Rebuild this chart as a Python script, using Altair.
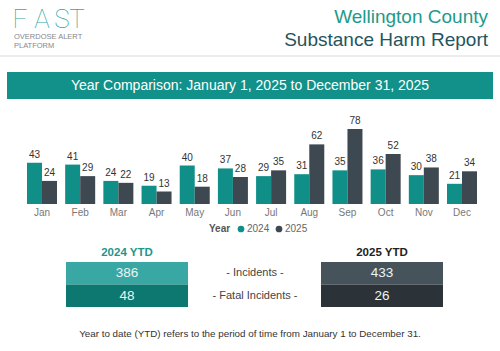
import altair as alt
import pandas as pd

# ---- data ----
months = ["Jan", "Feb", "Mar", "Apr", "May", "Jun", "Jul", "Aug", "Sep", "Oct", "Nov", "Dec"]
years = ["2024", "2025"]
values_2024 = [43, 41, 24, 19, 40, 37, 29, 31, 35, 36, 30, 21]
values_2025 = [24, 29, 22, 13, 18, 28, 35, 62, 78, 52, 38, 34]
ytd_metrics = ["Incidents", "Fatal Incidents"]
ytd_2024 = [386, 48]
ytd_2025 = [433, 26]

title_line1 = "Wellington County"
title_line2 = "Substance Harm Report"
banner_text = "Year Comparison: January 1, 2025 to December 31, 2025"
footer_text = "Year to date (YTD) refers to the period of time from January 1 to December 31."

# ---- styles ----
FONT = "Liberation Sans"
TEAL = "#0f8f88"
DARK = "#3d4850"
W, H = 500, 351

bars_df = pd.DataFrame({
    "month": months * 2,
    "year": [years[0]] * len(months) + [years[1]] * len(months),
    "value": values_2024 + values_2025,
})
months_df = pd.DataFrame({"month": months})
ytd_df = pd.DataFrame({
    "year": [years[0]] * 2 + [years[1]] * 2,
    "metric": ytd_metrics * 2,
    "value": ytd_2024 + ytd_2025,
})
one = pd.DataFrame({"k": [0]})

# ---- header / decoration ----
base = alt.Chart(one)

header_rule = base.mark_rule(color="#ececec", strokeWidth=2).encode(
    x=alt.value(0), x2=alt.value(W), y=alt.value(56))

logo_letters = []
for ch, xp in zip(["F", "A", "S", "T"], [20, 42, 62, 77]):
    logo_letters.append(
        base.mark_text(text=ch, font="Roboto", fontWeight=100, fontSize=26,
                       color="#3aa6a0", align="center", baseline="alphabetic")
        .encode(x=alt.value(xp), y=alt.value(28)))
logo_sub1 = base.mark_text(text="OVERDOSE ALERT", font=FONT, fontSize=7.5, color="#888",
                           align="left", baseline="alphabetic").encode(x=alt.value(14), y=alt.value(39))
logo_sub2 = base.mark_text(text="PLATFORM", font=FONT, fontSize=7.5, color="#888",
                           align="left", baseline="alphabetic").encode(x=alt.value(14), y=alt.value(47.5))

t1 = base.mark_text(text=title_line1, font=FONT, fontSize=19, color="#1e9a8b",
                    align="right", baseline="alphabetic").encode(x=alt.value(488), y=alt.value(23))
t2 = base.mark_text(text=title_line2, font=FONT, fontSize=19, color="#1f5560",
                    align="right", baseline="alphabetic").encode(x=alt.value(488), y=alt.value(46))

banner = base.mark_rect(color="#11918a").encode(
    x=alt.value(7), x2=alt.value(493), y=alt.value(72), y2=alt.value(99))
banner_t = base.mark_text(text=banner_text, font=FONT, fontSize=14, color="white",
                          align="center", baseline="middle").encode(x=alt.value(250), y=alt.value(86))

footer = base.mark_text(text=footer_text, font=FONT, fontSize=9.8, color="#333",
                        align="center", baseline="alphabetic").encode(x=alt.value(250), y=alt.value(337))

# ---- bar chart ----
xs = alt.Scale(domain=months, range=[22.9, 481.1], paddingInner=0.214, paddingOuter=0.107)
ys = alt.Scale(domain=[0, 78], range=[204, 129], nice=False, zero=True)
xo = alt.Scale(domain=years, paddingInner=0, paddingOuter=0)

bars = alt.Chart(bars_df).mark_bar().encode(
    x=alt.X("month:N", scale=xs, axis=None, sort=months),
    xOffset=alt.XOffset("year:N", scale=xo),
    y=alt.Y("value:Q", scale=ys, axis=None),
    color=alt.Color("year:N", scale=alt.Scale(domain=years, range=[TEAL, DARK]),
                    legend=alt.Legend(orient="none", legendX=209, legendY=224,
                                      direction="horizontal", title="Year",
                                      titleOrient="left", titleFont=FONT, titleFontSize=10,
                                      titleColor="#555", titleFontWeight="bold",
                                      titlePadding=5, titleBaseline="middle",
                                      labelFont=FONT, labelFontSize=10, labelColor="#666",
                                      symbolType="circle", symbolSize=45, symbolStrokeWidth=0,
                                      labelOffset=1, columnPadding=4, padding=0)),
)
bar_labels = alt.Chart(bars_df).mark_text(font=FONT, fontSize=10, color="#333",
                                          baseline="bottom", dy=-3).encode(
    x=alt.X("month:N", scale=xs, axis=None, sort=months),
    xOffset=alt.XOffset("year:N", scale=xo),
    y=alt.Y("value:Q", scale=ys, axis=None),
    text="value:Q",
)
month_labels = alt.Chart(months_df).mark_text(font=FONT, fontSize=10, color="#777",
                                              baseline="middle").encode(
    x=alt.X("month:N", scale=xs, axis=None, sort=months),
    y=alt.value(213),
    text="month:N",
)
bar_layer = alt.layer(bars, bar_labels, month_labels)

# ---- YTD boxes ----
yx = alt.Scale(domain=years, range=[66, 443], paddingInner=0.5216, paddingOuter=0)
yy = alt.Scale(domain=ytd_metrics, range=[262, 307], paddingInner=0, paddingOuter=0)
cell_dom = ["2024|Incidents", "2024|Fatal Incidents", "2025|Incidents", "2025|Fatal Incidents"]
cell_rng = ["#39a7a3", "#0c786f", "#47535b", "#2b3339"]

ytd_base = alt.Chart(ytd_df).transform_calculate(cell="datum.year + '|' + datum.metric")
ytd_rect = ytd_base.mark_rect().encode(
    x=alt.X("year:N", scale=yx, axis=None),
    y=alt.Y("metric:N", scale=yy, axis=None, sort=ytd_metrics),
    color=alt.Color("cell:N", scale=alt.Scale(domain=cell_dom, range=cell_rng), legend=None),
)
ytd_text = ytd_base.mark_text(font=FONT, fontSize=13.5, color="#eaf5f4", baseline="middle").encode(
    x=alt.X("year:N", scale=yx, axis=None),
    y=alt.Y("metric:N", scale=yy, axis=None, sort=ytd_metrics),
    text="value:Q",
)
ytd_head = alt.Chart(pd.DataFrame({"year": years})).transform_calculate(
    label="datum.year + ' YTD'").mark_text(font=FONT, fontSize=11.5, fontWeight="bold",
                                          baseline="alphabetic").encode(
    x=alt.X("year:N", scale=yx, axis=None),
    y=alt.value(256),
    text="label:N",
    color=alt.condition("datum.year == '2024'", alt.value("#1f958d"), alt.value("#222222")),
)
ytd_mid = alt.Chart(pd.DataFrame({"metric": ytd_metrics})).transform_calculate(
    label="'- ' + datum.metric + ' -'").mark_text(font=FONT, fontSize=11, color="#444",
                                                  baseline="middle").encode(
    x=alt.value(255),
    y=alt.Y("metric:N", scale=yy, axis=None, sort=ytd_metrics),
    text="label:N",
)
ytd_layer = alt.layer(ytd_rect, ytd_text, ytd_head, ytd_mid).resolve_scale(color="independent")

chart = alt.layer(
    header_rule, *logo_letters, logo_sub1, logo_sub2, t1, t2,
    banner, banner_t, bar_layer, ytd_layer, footer,
).resolve_scale(x="independent", y="independent", color="independent").properties(
    width=W, height=H, autosize="none", padding=0, background="white",
).configure_view(stroke=None)

chart.save("out.html", embed_options={"renderer": "svg", "actions": False})
